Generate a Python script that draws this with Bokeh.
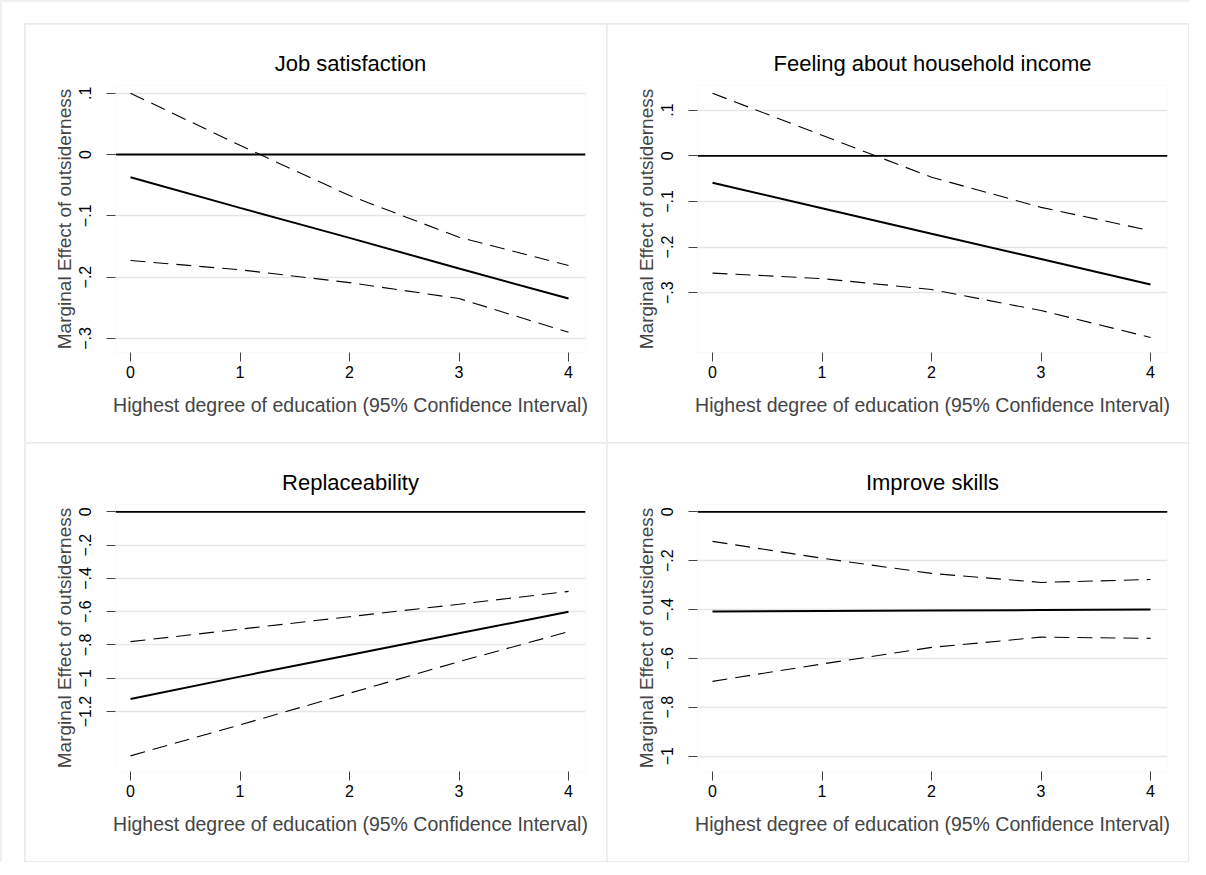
from bokeh.plotting import figure
from bokeh.models import Span, FixedTicker, Range1d, Spacer
from bokeh.layouts import gridplot, row, column
from bokeh.embed import file_html
from bokeh.resources import INLINE

# ---- data ----
education = [0, 1, 2, 3, 4]

job_me = [-0.037, -0.087, -0.136, -0.186, -0.235]
job_hi = [0.100, 0.015, -0.067, -0.135, -0.181]
job_lo = [-0.173, -0.188, -0.209, -0.235, -0.290]

inc_me = [-0.059, -0.115, -0.171, -0.226, -0.282]
inc_hi = [0.137, 0.045, -0.047, -0.113, -0.164]
inc_lo = [-0.257, -0.269, -0.293, -0.339, -0.398]

rep_me = [-1.125, -0.99, -0.86, -0.73, -0.60]
rep_hi = [-0.78, -0.705, -0.63, -0.555, -0.478]
rep_lo = [-1.466, -1.28, -1.09, -0.90, -0.72]

skl_me = [-0.408, -0.406, -0.404, -0.402, -0.400]
skl_hi = [-0.121, -0.19, -0.252, -0.289, -0.277]
skl_lo = [-0.694, -0.623, -0.555, -0.513, -0.518]

titles = ["Job satisfaction", "Feeling about household income", "Replaceability", "Improve skills"]

ticks_a = [0.1, 0.0, -0.1, -0.2, -0.3]
labels_a = [".1", "0", "\u2212.1", "\u2212.2", "\u2212.3"]
ticks_c = [0.0, -0.2, -0.4, -0.6, -0.8, -1.0, -1.2]
labels_c = ["0", "\u2212.2", "\u2212.4", "\u2212.6", "\u2212.8", "\u22121", "\u22121.2"]
ticks_d = [0.0, -0.2, -0.4, -0.6, -0.8, -1.0]
labels_d = ["0", "\u2212.2", "\u2212.4", "\u2212.6", "\u2212.8", "\u22121"]

x_label = "Highest degree of education (95% Confidence Interval)"
y_label = "Marginal Effect of outsiderness"

FONT = "Liberation Sans"


def make_panel(title, me, hi, lo, yticks, ylabels, yr):
    p = figure(width=581, height=418,
               x_range=Range1d(-0.137, 4.155), y_range=Range1d(*yr),
               output_backend="svg", toolbar_location=None,
               min_border_left=90, min_border_right=21,
               min_border_top=61, min_border_bottom=90)
    p.outline_line_color = None
    p.background_fill_color = "white"
    p.border_fill_color = "white"

    p.title.text = title
    p.title.align = "center"
    p.title.text_font = FONT
    p.title.text_font_style = "normal"
    p.title.text_font_size = "22px"
    p.title.text_color = "black"
    p.title.standoff = 20

    # x axis
    xa = p.xaxis[0]
    xa.ticker = FixedTicker(ticks=education)
    xa.axis_line_color = None
    xa.major_tick_in = 0
    xa.major_tick_out = 9
    xa.major_tick_line_color = "#444444"
    xa.minor_tick_line_color = None
    xa.major_label_text_font = FONT
    xa.major_label_text_font_size = "16px"
    xa.major_label_text_color = "black"
    xa.major_label_standoff = 4
    xa.axis_label = x_label
    xa.axis_label_text_font = FONT
    xa.axis_label_text_font_style = "normal"
    xa.axis_label_text_font_size = "19.5px"
    xa.axis_label_standoff = 13

    # y axis
    ya = p.yaxis[0]
    ya.ticker = FixedTicker(ticks=yticks)
    ya.major_label_overrides = {t: l for t, l in zip(yticks, ylabels)}
    ya.major_label_orientation = "vertical"
    ya.axis_line_color = None
    ya.major_tick_in = 0
    ya.major_tick_out = 9
    ya.major_tick_line_color = "#444444"
    ya.minor_tick_line_color = None
    ya.major_label_text_font = FONT
    ya.major_label_text_font_size = "16px"
    ya.major_label_text_color = "black"
    ya.major_label_standoff = 15
    ya.axis_label = y_label
    ya.axis_label_text_font = FONT
    ya.axis_label_text_font_style = "normal"
    ya.axis_label_text_font_size = "19px"
    ya.axis_label_standoff = 2

    p.xgrid.visible = False
    p.ygrid.grid_line_color = "#e6e6e6"
    p.ygrid.grid_line_width = 1.5

    p.add_layout(Span(location=0, dimension="width", line_color="black", line_width=1.8))
    p.line(education, hi, line_color="black", line_width=1.1, line_dash="15 8")
    p.line(education, lo, line_color="black", line_width=1.1, line_dash="15 8")
    p.line(education, me, line_color="black", line_width=2)
    return p


p1 = make_panel(titles[0], job_me, job_hi, job_lo, ticks_a, labels_a, (-0.323, 0.1126))
p2 = make_panel(titles[1], inc_me, inc_hi, inc_lo, ticks_a, labels_a, (-0.431, 0.154))
p3 = make_panel(titles[2], rep_me, rep_hi, rep_lo, ticks_c, labels_c, (-1.56, 0.044))
p4 = make_panel(titles[3], skl_me, skl_hi, skl_lo, ticks_d, labels_d, (-1.063, 0.030))

grid = gridplot([[p1, p2], [p3, p4]], toolbar_location=None)
grid.spacing = 1
grid.styles = {"background-color": "#ebebeb", "border": "1px solid #ebebeb"}

layout = column(Spacer(height=21), row(Spacer(width=22), grid))
layout.styles = {"border-left": "2px solid #f0f0f0", "border-top": "2px solid #f0f0f0"}

open("out.html", "w").write(file_html(layout, INLINE))
